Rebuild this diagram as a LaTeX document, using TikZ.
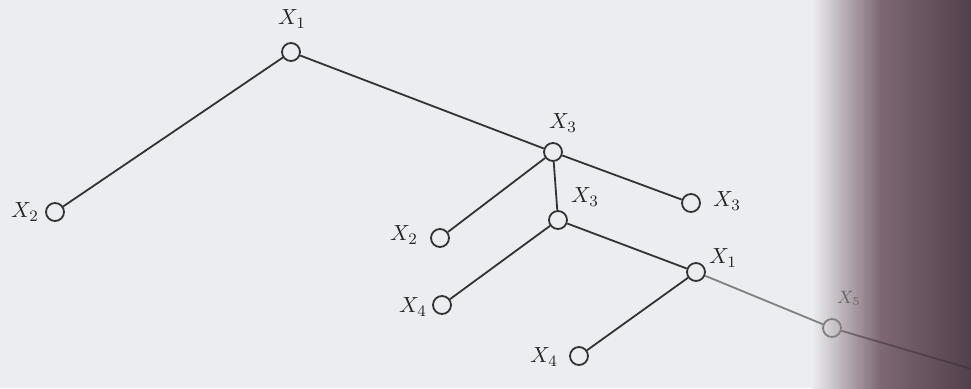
\documentclass[tikz,border=0pt]{standalone}
\begin{document}
\begin{tikzpicture}[x=0.5pt,y=-0.5pt,
  vtx/.style={circle,draw=black!80,line width=0.9pt,fill=pagebg,minimum size=9pt,inner sep=0pt},
  fvtx/.style={vtx,draw=black!50,fill=none},
  lbl/.style={inner sep=0pt,font=\fontsize{11}{13}\selectfont,text=black!85},
  edge/.style={line width=0.9pt,draw=black!80},
  fedge/.style={line width=0.9pt,draw=black!50}]
\definecolor{pagebg}{RGB}{236,237,240}
\definecolor{mauve}{RGB}{125,104,115}
\definecolor{darkm}{RGB}{82,64,76}
\useasboundingbox (0,0) rectangle (971,388);
\fill[pagebg] (0,0) rectangle (971,388);
\shade[left color=pagebg,right color=mauve] (812,0) rectangle (880,388);
\shade[left color=mauve,right color=darkm] (880,0) rectangle (971,388);

% vertices
\node[vtx] (x1)  at (291,52)  {};
\node[vtx] (x2l) at (55,212)  {};
\node[vtx] (x3a) at (553,152) {};
\node[vtx] (x3r) at (691,203) {};
\node[vtx] (x2m) at (440,238) {};
\node[vtx] (x3b) at (558,220) {};
\node[vtx] (x4a) at (442,305) {};
\node[vtx] (x1b) at (696,272) {};
\node[vtx] (x4b) at (579,356) {};
\node[fvtx] (x5) at (832,328) {};
\coordinate (tail) at (975,370);

% edges
\draw[edge] (x1) -- (x2l);
\draw[edge] (x1) -- (x3a);
\draw[edge] (x3a) -- (x3r);
\draw[edge] (x3a) -- (x2m);
\draw[edge] (x3a) -- (x3b);
\draw[edge] (x3b) -- (x4a);
\draw[edge] (x3b) -- (x1b);
\draw[edge] (x1b) -- (x4b);
\draw[fedge] (x1b) -- (x5);
\draw[line width=0.9pt,draw=darkm!70!black,opacity=0.5] (x5) -- (tail);

% labels
\node[lbl] (l1)  at (292,19)  {$X_1$};
\node[lbl] (l2l) at (25,212)  {$X_2$};
\node[lbl] (l3a) at (563,123) {$X_3$};
\node[lbl] (l3r) at (727,201) {$X_3$};
\node[lbl] (l2m) at (404,235) {$X_2$};
\node[lbl] (l3b) at (585,197) {$X_3$};
\node[lbl] (l4a) at (413,307) {$X_4$};
\node[lbl] (l1b) at (723,258) {$X_1$};
\node[lbl] (l4b) at (544,357) {$X_4$};
\node[lbl,text=black!60,font=\fontsize{9}{11}\selectfont] (l5) at (849,298) {$X_5$};
\end{tikzpicture}
\end{document}
